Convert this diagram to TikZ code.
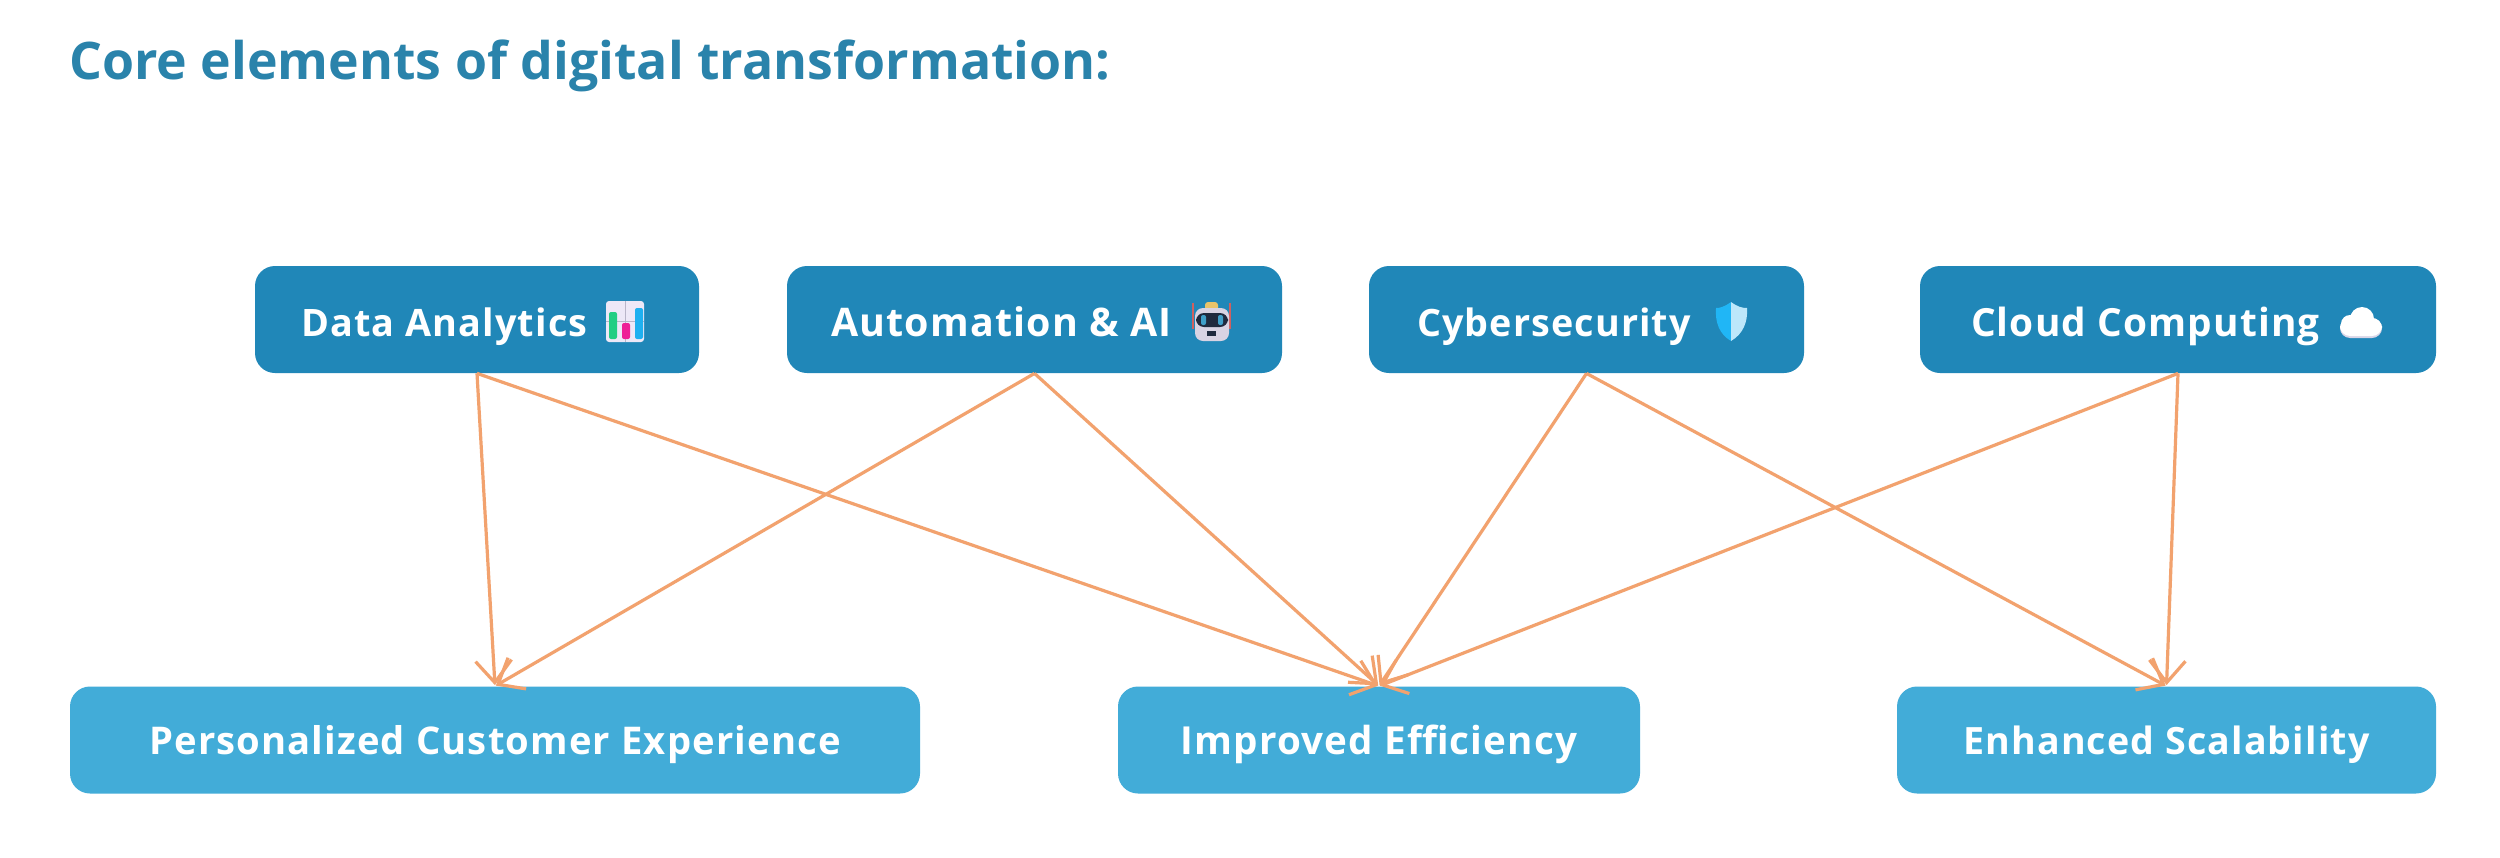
\documentclass[tikz,border=0pt]{standalone}
\usepackage{fontspec}
\setmainfont{Open Sans}
\newfontfamily\boxfont[LetterSpace=3]{Open Sans}
\usetikzlibrary{arrows.meta}
\definecolor{titleblue}{HTML}{2A83AB}
\definecolor{darkbox}{HTML}{2087B8}
\definecolor{lightbox}{HTML}{42ACD8}
\definecolor{edgeorange}{HTML}{F2A26E}
\definecolor{chartbg}{HTML}{EDE8F7}
\definecolor{chartgrid}{HTML}{B9B5C9}
\definecolor{chartgreen}{HTML}{22CE83}
\definecolor{chartpink}{HTML}{EE1E96}
\definecolor{chartblue}{HTML}{1EB0F0}
\definecolor{robothead}{HTML}{D8D3E3}
\definecolor{robotvisor}{HTML}{1F2A3E}
\definecolor{roboteye}{HTML}{3F9FC8}
\definecolor{robotcap}{HTML}{E8C36A}
\definecolor{robotred}{HTML}{D0605F}
\definecolor{shieldleft}{HTML}{20B6F6}
\definecolor{shieldright}{HTML}{BDE7FA}
\definecolor{cloudshade}{HTML}{D9D6E8}
\tikzset{
  x=0.5pt,y=-0.5pt,
  basebox/.style={rounded corners=10pt,inner sep=0pt,text=white,
    minimum height=53.5pt},
  topbox/.style={basebox,fill=darkbox,text height=18pt,text depth=1.5pt,
    font=\boxfont\fontsize{19.4pt}{24pt}\bfseries},
  botbox/.style={basebox,fill=lightbox,text height=18pt,text depth=4pt,
    font=\boxfont\fontsize{19.1pt}{24pt}\bfseries},
  conn/.style={draw=edgeorange,line width=1.6pt,shorten >=0.5pt,
    -{Straight Barb[length=11pt,width=18pt,line width=1.6pt]}},
  title/.style={inner sep=0pt,anchor=base west,text=titleblue,
    font=\fontsize{25.9pt}{30pt}\bfseries}
}
\newcommand{\boxtext}[3]{\makebox[#1][l]{\hspace{#2}#3}}
\newcommand{\fsz}[1]{\fontsize{#1}{24pt}\selectfont}
\begin{document}
\begin{tikzpicture}
\useasboundingbox (0,0) rectangle (2500,857);
\fill[white] (0,0) rectangle (2500,857);
\node[title] (head) at (69,79) {Core elements of digital transformation:};
% top row
\node[topbox,minimum width=222pt] (data) at (477,319.5) {\boxtext{222pt}{23pt}{\fsz{18.9pt}Data Analytics}};
\node[topbox,minimum width=247.5pt] (auto) at (1034.5,319.5) {\boxtext{247.5pt}{22pt}{\fsz{19.7pt}Automation \& AI}};
\node[topbox,minimum width=217.5pt] (cyber) at (1586.5,319.5) {\boxtext{217.5pt}{24pt}{\fsz{18.85pt}Cybersecurity}};
\node[topbox,minimum width=258pt] (cloud) at (2178,319.5) {\boxtext{258pt}{25.5pt}{Cloud Computing}};
% bottom row
\node[botbox,minimum width=425pt] (pce) at (495,740) {Personalized Customer Experience};
\node[botbox,minimum width=261pt] (eff) at (1379,740) {\fsz{19.3pt}Improved Efficiency};
\node[botbox,minimum width=269.5pt] (scal) at (2166.5,740) {\fsz{18.8pt}Enhanced Scalability};
% connectors
\foreach \a/\b in {data/pce,data/eff,auto/pce,auto/eff,cyber/eff,cyber/scal,cloud/eff,cloud/scal}
  \draw[conn] (\a.south) -- (\b.north);
% chart icon
\fill[rounded corners=1.5pt,fill=chartbg] (606,301) rectangle (644,342);
\draw[line width=.3pt,chartgrid] (606,321) -- (644,321) (625,301) -- (625,342);
\fill[rounded corners=1pt,fill=chartgreen] (609,312) rectangle (617,339);
\fill[rounded corners=1pt,fill=chartpink] (622,323) rectangle (630,339);
\fill[rounded corners=1pt,fill=chartblue] (635,308) rectangle (643,339);
% robot icon
\draw[line width=1pt,robotred] (1193,303) -- (1193,329) (1230,303) -- (1230,329);
\fill[fill=robotcap,rounded corners=1.5pt] (1205,302) rectangle (1218,312);
\fill[fill=robothead,rounded corners=4pt] (1195,308) rectangle (1229,341);
\fill[fill=robotvisor,rounded corners=4pt] (1196,313) rectangle (1228,327);
\fill[fill=roboteye,rounded corners=1pt] (1201,315) rectangle (1206,325);
\fill[fill=roboteye,rounded corners=1pt] (1218,315) rectangle (1223,325);
\fill[fill=robotvisor] (1207,331) rectangle (1216,336);
% shield icon
\fill[fill=shieldleft] (1731,302) .. controls (1724,307) and (1720,308) .. (1716,308) .. controls (1715,322) and (1719,334) .. (1731,341) -- cycle;
\fill[fill=shieldright] (1731,302) .. controls (1738,307) and (1742,308) .. (1747,308) .. controls (1748,322) and (1743,334) .. (1731,341) -- cycle;
% cloud icon
\fill[fill=cloudshade,rounded corners=5pt] (2340,318) rectangle (2382,338);
\fill[fill=white,rounded corners=5pt] (2340,318) rectangle (2382,336);
\fill[fill=white] (2362,319) circle[radius=12];
\fill[fill=white] (2350,324) circle[radius=9];
\end{tikzpicture}
\end{document}
